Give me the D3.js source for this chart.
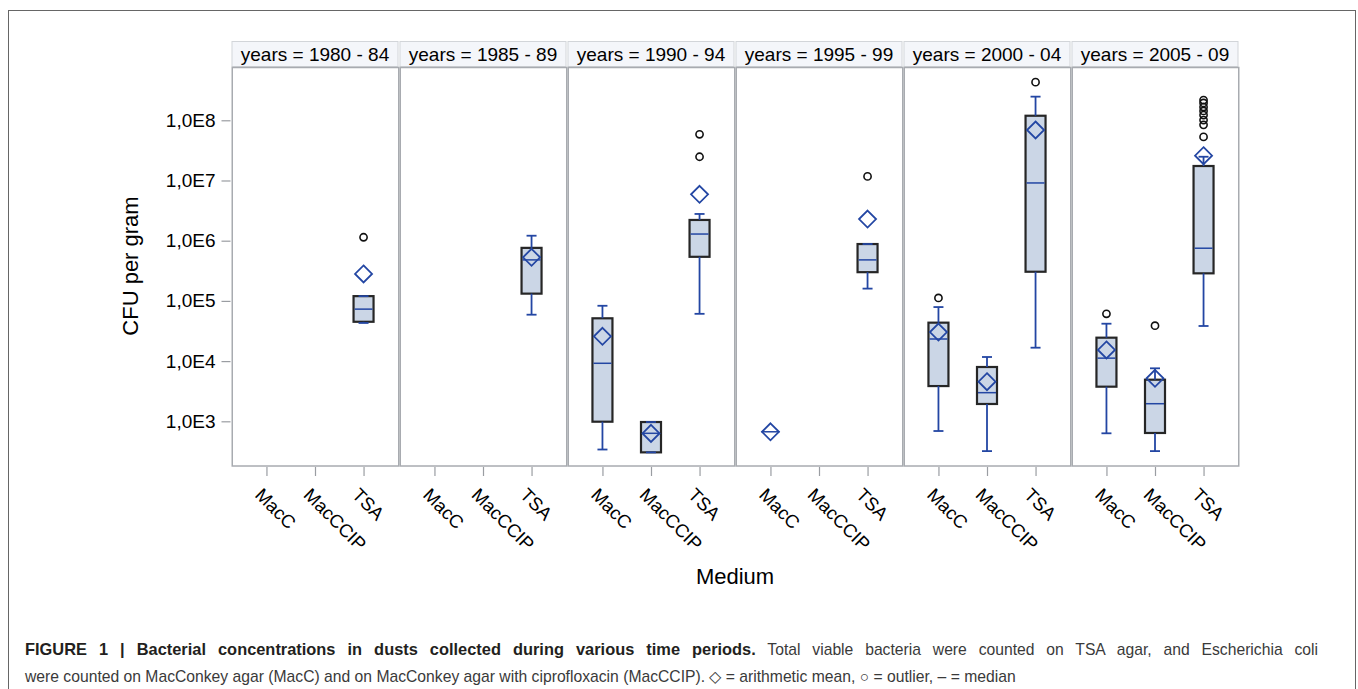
<!DOCTYPE html>
<html><head><meta charset="utf-8">
<script src="https://cdn.jsdelivr.net/npm/d3@7"></script>
<style>body{margin:0;background:#fff}svg{display:block}</style>
</head><body>
<svg id="c" width="1358" height="689"></svg>
<script>
// ---- data ----
const periods = ["years = 1980 - 84","years = 1985 - 89","years = 1990 - 94","years = 1995 - 99","years = 2000 - 04","years = 2005 - 09"];
const media = ["MacC","MacCCIP","TSA"];
const yTicks = [1e3,1e4,1e5,1e6,1e7,1e8];
const yTickLabels = ["1,0E3","1,0E4","1,0E5","1,0E6","1,0E7","1,0E8"];

// one entry per box
const boxPeriod  = [0,1,2,2,2,3,3,4,4,4,5,5,5];
const boxMedium  = ["TSA","TSA","MacC","MacCCIP","TSA","MacC","TSA","MacC","MacCCIP","TSA","MacC","MacCCIP","TSA"];
const boxLow     = [4.3e4,5.9e4,340,305,6.1e4,670,1.6e5,690,320,1.67e4,632,320,3.83e4];
const boxQ1      = [4.5e4,1.32e5,985,305,5.4e5,670,3.0e5,3850,1940,3.05e5,3760,640,2.87e5];
const boxMedian  = [7.3e4,4.8e5,9200,632,1.29e6,670,4.8e5,2.33e4,2990,9.1e6,1.12e4,1960,7.5e5];
const boxQ3      = [1.2e5,7.6e5,5.14e4,973,2.21e6,670,8.8e5,4.35e4,7980,1.19e8,2.45e4,4910,1.74e7];
const boxHigh    = [1.2e5,1.21e6,8.3e4,973,2.78e6,670,8.8e5,7.9e4,1.17e4,2.47e8,4.18e4,7590,2.48e7];
const boxMean    = [2.8e5,5.3e5,2.58e4,630,5.9e6,670,2.29e6,3.04e4,4550,6.9e7,1.53e4,5180,2.58e7];

// outliers
const outPeriod = [0,2,2,3,4,4,5,5,5,5,5,5,5,5,5,5];
const outMedium = ["TSA","TSA","TSA","TSA","MacC","TSA","MacC","MacCCIP","TSA","TSA","TSA","TSA","TSA","TSA","TSA","TSA"];
const outValue  = [1.14e6,2.48e7,5.85e7,1.17e7,1.12e5,4.3e8,6.1e4,3.87e4,2.17e8,1.94e8,1.66e8,1.43e8,1.22e8,1.01e8,8.4e7,5.3e7];

(function(){
const svg = d3.select("#c");
const FONT = "'Liberation Sans', Arial, sans-serif";
const pL = 231.5, pR = 1239.5, pT = 67.5, pB = 466, stripTop = 41.5;
const boxColor = "#cbd6e6", blue = "#2346a3", frameGrey = "#a8abb0";

svg.append("rect").attr("x",8.5).attr("y",10.5).attr("width",1347).attr("height",700)
  .attr("fill","none").attr("stroke","#666").attr("stroke-width",1);

const xp = d3.scaleBand().domain(d3.range(periods.length)).range([pL,pR]).padding(0);
const xm = d3.scalePoint().domain(media).range([0,167]).padding(0.72);
const y = d3.scaleLog().domain([181, 7.53e8]).range([pB, pT]);
const X = (p,m) => xp(p) + xm(m);

const strips = svg.append("g");
periods.forEach((lab,i)=>{
  strips.append("rect").attr("x",xp(i)+0.5).attr("y",stripTop).attr("width",xp.bandwidth()-2).attr("height",pT-stripTop-1)
    .attr("fill","#f4f6fa").attr("stroke","#d2d5d9").attr("stroke-width",1);
  strips.append("text").attr("x",xp(i)+xp.bandwidth()/2-0.5).attr("y",61.3).attr("text-anchor","middle")
    .attr("font-family",FONT).attr("font-size",19).attr("fill","#000").text(lab);
});

const yAxis = d3.axisLeft(y).tickValues(yTicks).tickFormat((d,i)=>yTickLabels[i]).tickSize(9).tickPadding(6);
const ga = svg.append("g").attr("transform",`translate(${pL-1},0)`).call(yAxis);
ga.select(".domain").remove();
ga.selectAll("line").attr("stroke","#9a9da2").attr("stroke-width",1.2);
ga.selectAll("text").attr("font-family",FONT).attr("font-size",19).attr("fill","#000");

periods.forEach((lab,i)=>{
  const sx = d3.scalePoint().domain(media).range([xp(i), xp(i)+167]).padding(0.72);
  const gx = svg.append("g").attr("transform",`translate(0,${pB+1})`).call(d3.axisBottom(sx).tickSize(9).tickFormat(""));
  gx.select(".domain").remove();
  gx.selectAll("line").attr("stroke","#9a9da2").attr("stroke-width",1.2);
  gx.selectAll(".tick").append("text")
    .attr("transform","translate(-13,29) rotate(45)")
    .attr("text-anchor","start").attr("font-family",FONT).attr("font-size",18.5).attr("fill","#000")
    .text(d=>d);
});

periods.forEach((lab,i)=>{
  svg.append("rect").attr("x",xp(i)+0.75).attr("y",pT).attr("width",xp.bandwidth()-1.5).attr("height",pB-pT)
    .attr("fill","none").attr("stroke",frameGrey).attr("stroke-width",1.5);
});

const hw = 10, cap = 5;
const g = svg.append("g");
boxPeriod.forEach((p,i)=>{
  const cx = X(p, boxMedium[i]);
  const yq1 = y(boxQ1[i]), yq3 = y(boxQ3[i]);
  const hasBox = yq1 - yq3 > 0.5;
  if (hasBox) {
    g.append("rect").attr("x",cx-hw).attr("y",yq3).attr("width",2*hw).attr("height",yq1-yq3)
      .attr("fill",boxColor).attr("stroke","#262626").attr("stroke-width",2.2);
  }
  const yl = y(boxLow[i]), yh = y(boxHigh[i]);
  if (yl - yq1 > 0.5) g.append("line").attr("x1",cx).attr("x2",cx).attr("y1",yq1).attr("y2",yl).attr("stroke",blue).attr("stroke-width",1.8);
  if (yq3 - yh > 0.5) g.append("line").attr("x1",cx).attr("x2",cx).attr("y1",yq3).attr("y2",yh).attr("stroke",blue).attr("stroke-width",1.8);
  if (hasBox) {
    [yl,yh].forEach(v=>g.append("line").attr("x1",cx-cap).attr("x2",cx+cap).attr("y1",v).attr("y2",v).attr("stroke",blue).attr("stroke-width",1.8));
  }
  const ym = y(boxMedian[i]);
  g.append("line").attr("x1",cx-hw+1).attr("x2",cx+hw-1).attr("y1",ym).attr("y2",ym).attr("stroke",blue).attr("stroke-width",1.5);
  const ymn = y(boxMean[i]), d = 8.5;
  g.append("path").attr("d",`M${cx},${ymn-d}L${cx+d},${ymn}L${cx},${ymn+d}L${cx-d},${ymn}Z`)
    .attr("fill","none").attr("stroke",blue).attr("stroke-width",1.8);
});

outPeriod.forEach((p,i)=>{
  g.append("circle").attr("cx",X(p,outMedium[i])).attr("cy",y(outValue[i])).attr("r",3.6)
    .attr("fill","none").attr("stroke","#111").attr("stroke-width",1.6);
});

svg.append("text").attr("transform","translate(138,266) rotate(-90)").attr("text-anchor","middle")
  .attr("font-family",FONT).attr("font-size",22).attr("fill","#000").text("CFU per gram");
svg.append("text").attr("x",735).attr("y",584).attr("text-anchor","middle")
  .attr("font-family",FONT).attr("font-size",22).attr("fill","#000").text("Medium");

// caption: first line justified to the right margin
const capSize = 15.7;
const cap1 = svg.append("text").attr("x",25).attr("y",655).attr("font-family",FONT).attr("font-size",capSize);
cap1.append("tspan").attr("font-weight","bold").attr("font-size",16.4).attr("fill","#231f20").text("FIGURE 1 | Bacterial concentrations in dusts collected during various time periods.");
cap1.append("tspan").attr("fill","#3a3a3a").text(" Total viable bacteria were counted on TSA agar, and Escherichia coli");
const natural = cap1.node().getComputedTextLength();
const nSpaces = (cap1.text().match(/ /g) || []).length;
cap1.attr("word-spacing", Math.max(0, (1318 - 25 - natural) / nSpaces));
svg.append("text").attr("x",25).attr("y",682).attr("font-family",FONT).attr("font-size",capSize).attr("fill","#3a3a3a")
  .text("were counted on MacConkey agar (MacC) and on MacConkey agar with ciprofloxacin (MacCCIP). \u25C7 = arithmetic mean, \u25CB = outlier, \u2013 = median");
})();
</script>
</body></html>
